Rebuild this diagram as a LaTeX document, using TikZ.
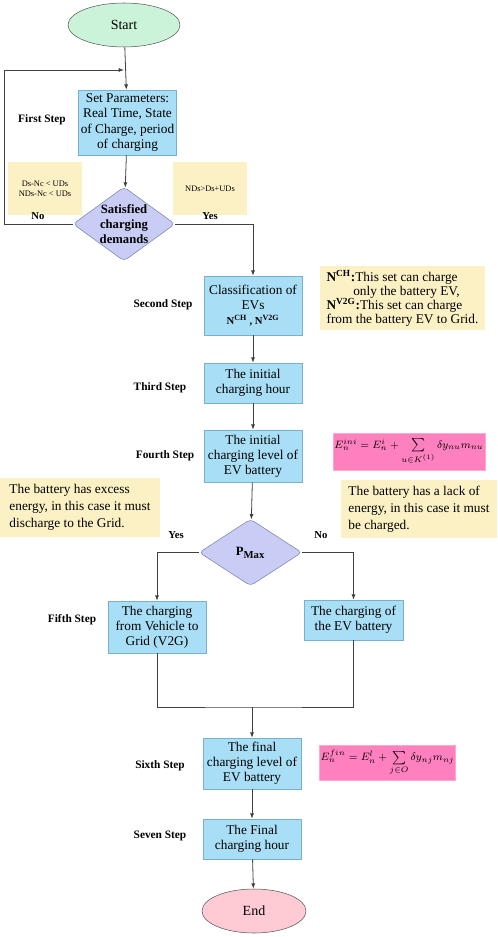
\documentclass[tikz,border=0pt]{standalone}
\usepackage{fontspec}
\setmainfont{Liberation Serif}
\usetikzlibrary{arrows.meta,positioning,shapes.geometric}

\definecolor{boxblue}{RGB}{168,222,246}
\definecolor{boxedge}{RGB}{120,176,208}
\definecolor{termgreen}{RGB}{202,243,218}
\definecolor{termpink}{RGB}{254,202,212}
\definecolor{decfill}{RGB}{201,205,245}
\definecolor{decedge}{RGB}{126,130,170}
\definecolor{notefill}{RGB}{252,241,196}
\definecolor{formfill}{RGB}{255,128,190}
\definecolor{lineclr}{RGB}{64,64,64}

\begin{document}
\begin{tikzpicture}[x=0.75pt, y=-0.75pt,
  stepbox/.style={draw=boxedge, fill=boxblue, align=center, inner sep=1pt, minimum width=73.5pt, font=\fontsize{10}{11.3}\selectfont},
  terminal/.style={draw=gray!70!black, ellipse, align=center, minimum height=33pt, font=\fontsize{10.5}{12}\selectfont},
  decision/.style={draw=decedge, fill=decfill, diamond, rounded corners=3pt, aspect=1.4, inner sep=-3pt, align=center, font=\bfseries\fontsize{9.5}{11.2}\selectfont},
  note/.style={fill=notefill, align=left, inner sep=2pt},
  formula/.style={draw=formfill!70!white, fill=formfill, inner sep=1pt, font=\footnotesize},
  steplabel/.style={font=\bfseries\fontsize{8.5}{10}\selectfont},
  yesno/.style={font=\bfseries\fontsize{8}{9}\selectfont},
  arr/.style={-{Latex[length=4pt,width=3pt]}, draw=lineclr, semithick},
  wire/.style={draw=lineclr, semithick}
]
\useasboundingbox (0,0) rectangle (498,937);

% main column
\node[terminal, fill=termgreen, minimum width=84pt] (start) at (124,25) {Start};
\node[stepbox, minimum height=48.75pt] (set) at (127.5,122.5) {Set Parameters:\\Real Time, State\\of Charge, period\\of charging};
\node[decision, minimum width=76.5pt, minimum height=55.5pt] (dec) at (124,224) {Satisfied\\charging\\demands};
\node[stepbox, minimum height=44.25pt] (cls) at (253,305.5) {Classification of\\EVs\\{\footnotesize\bfseries N\textsuperscript{CH} , N\textsuperscript{V2G}}};
\node[stepbox, minimum height=30pt] (ini) at (253,383) {The initial\\charging hour};
\node[stepbox, minimum height=39pt] (lvl) at (253,456) {The initial\\charging level of\\EV battery};
\node[decision, minimum width=77pt, minimum height=50pt] (pmax) at (250.5,552.5) {P\textsubscript{\footnotesize Max}};
\node[stepbox, minimum height=39pt] (v2g) at (157,627) {The charging\\from Vehicle to\\Grid (V2G)};
\node[stepbox, minimum width=74pt, minimum height=30pt] (chg) at (353.5,620) {The charging of\\the EV battery};
\node[stepbox, minimum height=38.25pt] (fin) at (252,763.5) {The final\\charging level of\\EV battery};
\node[stepbox, minimum height=30pt] (hour) at (252,839) {The Final\\charging hour};
\node[terminal, fill=termpink, minimum width=78pt] (end) at (254,911) {End};

% step labels
\node[steplabel] (s1) at (42,120) {First Step};
\node[steplabel] (s2) at (163,305) {Second Step};
\node[steplabel] (s3) at (160,388) {Third Step};
\node[steplabel] (s4) at (165,456) {Fourth Step};
\node[steplabel] (s5) at (72,620) {Fifth Step};
\node[steplabel] (s6) at (160,766) {Sixth Step};
\node[steplabel] (s7) at (160,836) {Seven Step};

% notes
\node[note, minimum width=55.5pt, minimum height=39.75pt, align=center, font=\fontsize{6.3}{7.8}\selectfont] (ds) at (45,188.5) {Ds-Nc < UDs\\NDs-Nc < UDs};
\node[note, minimum width=55.5pt, minimum height=39.75pt, align=center, font=\fontsize{6.3}{7.8}\selectfont] (nds) at (210,188.5) {NDs>Ds+UDs};
\node[note, minimum width=123.75pt, minimum height=48pt, font=\fontsize{10}{10.5}\selectfont] (nset) at (402.5,298) {\textbf{N\textsuperscript{\scriptsize CH}:}This set can charge\\\hspace*{2em}only the battery EV,\\\textbf{N\textsuperscript{\scriptsize V2G}:}This set can charge\\from the battery EV to Grid.};
\node[note, minimum width=120pt, minimum height=44.25pt, font=\fontsize{10}{12.7}\selectfont] (exc) at (80,507.5) {The battery has excess\\energy, in this case it must\\discharge to the Grid.};
\node[note, minimum width=117pt, minimum height=43.5pt, font=\fontsize{10}{12.7}\selectfont] (lack) at (419,509) {The battery has a lack of\\energy, in this case it must\\be charged.};

% formulas
\node[formula, minimum width=102pt, minimum height=27.75pt] (f1) at (409,451.5) {$E_n^{ini} = E_n^{i} + \sum\limits_{u\in K^{(1)}} \delta y_{nu} m_{nu}$};
\node[formula, minimum width=90.75pt, minimum height=26.25pt] (f2) at (387.5,762.5) {$E_n^{fin} = E_n^{l} + \sum\limits_{j\in O} \delta y_{nj} m_{nj}$};

% yes / no
\node[yesno] (no1) at (38,216) {No};
\node[yesno] (yes1) at (210,216) {Yes};
\node[yesno] (yes2) at (176,535) {Yes};
\node[yesno] (no2) at (321,535) {No};

% connectors
\coordinate (loopin) at (124,70);
\coordinate (join) at (252,707);
\draw[arr] (start) -- (set);
\draw[arr] (set) -- (dec);
\draw[arr] (dec.west) -| (4,70) -- (loopin);
\draw[arr] (dec.east) -| (cls.north);
\draw[arr] (cls) -- (ini);
\draw[arr] (ini) -- (lvl);
\draw[arr] (lvl) -- (pmax);
\draw[arr] (pmax.west) -| (v2g.north);
\draw[arr] (pmax.east) -| (chg.north);
\draw[wire] (v2g.south) |- (join) -| (chg.south);
\draw[arr] (join) -- (fin);
\draw[arr] (fin) -- (hour);
\draw[arr] (hour) -- (end);
\end{tikzpicture}
\end{document}
